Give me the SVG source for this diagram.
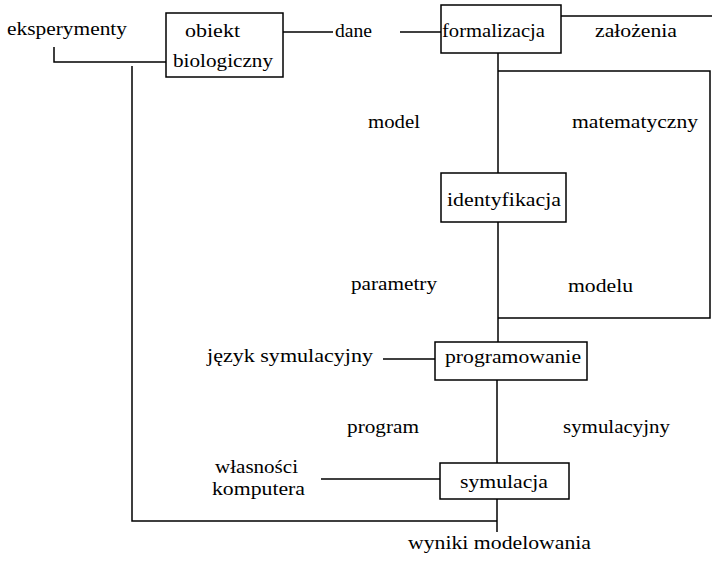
<svg xmlns="http://www.w3.org/2000/svg" width="712" height="563" viewBox="0 0 712 563" font-family="Liberation Serif, DejaVu Serif, serif" font-size="19">
<style>
text{fill:#000}
rect{fill:#fff;stroke:#000;stroke-width:1.5}
.c{fill:none;stroke:#000;stroke-width:1.5}
</style>
<rect x="0" y="0" width="712" height="563" style="stroke:none"/>
<g id="connectors">
<polyline class="c" points="54,47 54,62 166,62"/>
<polyline class="c" points="132,66 132,521 497,521"/>
<line class="c" x1="283" y1="32" x2="333" y2="32"/>
<line class="c" x1="400" y1="32" x2="441" y2="32"/>
<line class="c" x1="561" y1="16" x2="712" y2="16"/>
<line class="c" x1="498" y1="53" x2="498" y2="173"/>
<polyline class="c" points="498,71 710,71 710,318 498,318"/>
<line class="c" x1="498" y1="222" x2="498" y2="342"/>
<line class="c" x1="383" y1="359" x2="435" y2="359"/>
<line class="c" x1="497" y1="380" x2="497" y2="463"/>
<line class="c" x1="321" y1="479" x2="440" y2="479"/>
<line class="c" x1="497" y1="499" x2="497" y2="532"/>
</g>
<g id="obiekt">
<rect x="166" y="13" width="117" height="64"/>
<text x="185" y="37" textLength="55" lengthAdjust="spacingAndGlyphs">obiekt</text>
<text x="173" y="67" textLength="100" lengthAdjust="spacingAndGlyphs">biologiczny</text>
</g>
<g id="formalizacja">
<rect x="441" y="5" width="120" height="48"/>
<text x="442" y="37" textLength="103" lengthAdjust="spacingAndGlyphs">formalizacja</text>
</g>
<g id="identyfikacja">
<rect x="441" y="173" width="125" height="49"/>
<text x="447" y="206" textLength="114" lengthAdjust="spacingAndGlyphs">identyfikacja</text>
</g>
<g id="programowanie">
<rect x="435" y="342" width="152" height="38"/>
<text x="445" y="363" textLength="136" lengthAdjust="spacingAndGlyphs">programowanie</text>
</g>
<g id="symulacja">
<rect x="440" y="463" width="129" height="36"/>
<text x="460" y="488" textLength="88" lengthAdjust="spacingAndGlyphs">symulacja</text>
</g>
<g id="labels">
<text x="7" y="35" textLength="120" lengthAdjust="spacingAndGlyphs">eksperymenty</text>
<text x="335" y="37" textLength="37" lengthAdjust="spacingAndGlyphs">dane</text>
<text x="595" y="37" textLength="82" lengthAdjust="spacingAndGlyphs">założenia</text>
<text x="368" y="128" textLength="52" lengthAdjust="spacingAndGlyphs">model</text>
<text x="572" y="128" textLength="126" lengthAdjust="spacingAndGlyphs">matematyczny</text>
<text x="351" y="290" textLength="86" lengthAdjust="spacingAndGlyphs">parametry</text>
<text x="568" y="292" textLength="65" lengthAdjust="spacingAndGlyphs">modelu</text>
<text x="207" y="362" textLength="166" lengthAdjust="spacingAndGlyphs">język symulacyjny</text>
<text x="347" y="433" textLength="72" lengthAdjust="spacingAndGlyphs">program</text>
<text x="563" y="433" textLength="107" lengthAdjust="spacingAndGlyphs">symulacyjny</text>
<text x="215" y="473" textLength="83" lengthAdjust="spacingAndGlyphs">własności</text>
<text x="212" y="495" textLength="93" lengthAdjust="spacingAndGlyphs">komputera</text>
<text x="408" y="549" textLength="183" lengthAdjust="spacingAndGlyphs">wyniki modelowania</text>
</g>
</svg>
